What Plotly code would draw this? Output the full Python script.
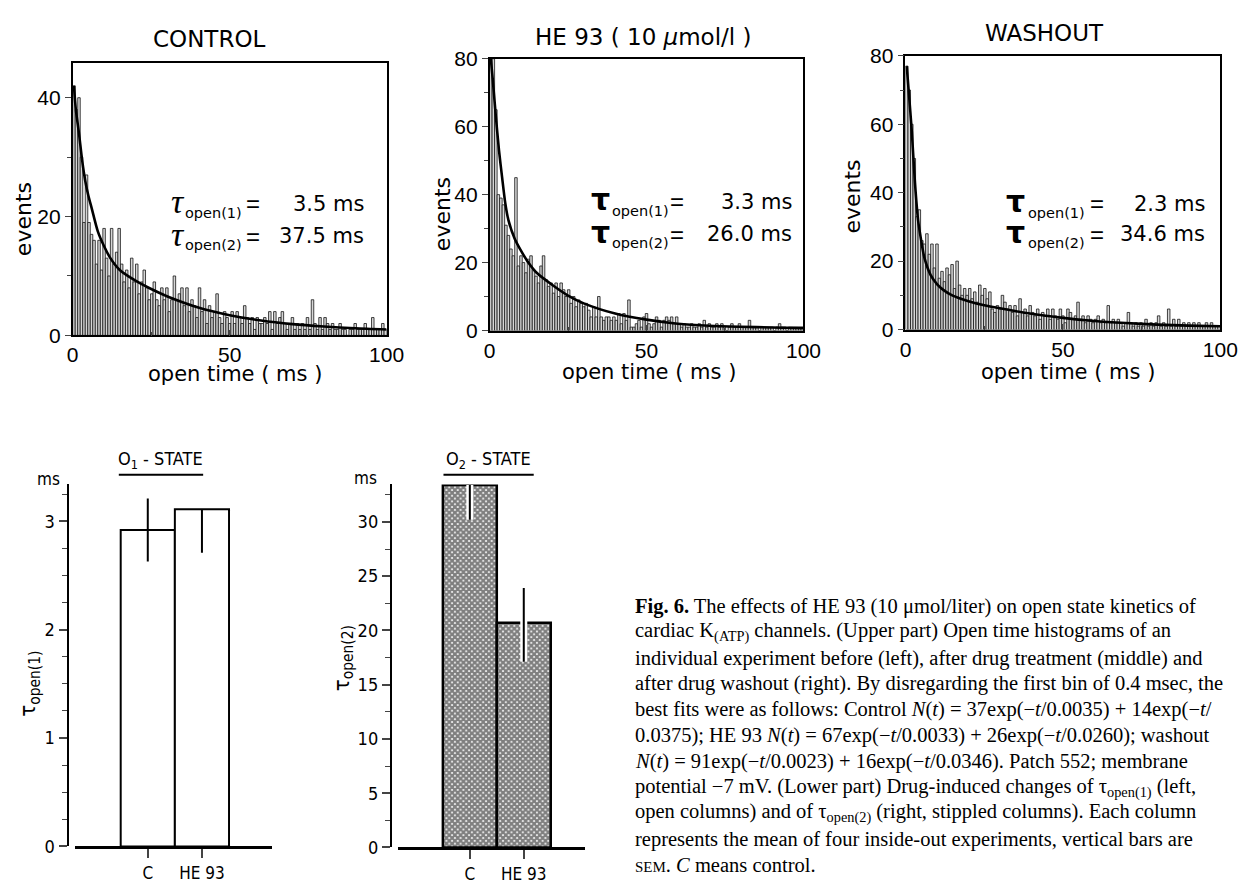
import plotly.graph_objects as go

W, H = 1256, 887


def PX(x):
    return x / W


def PY(y):
    return 1 - y / H


# ---------------- data ----------------
BIN_WIDTH = 0.8  # ms

control_counts = [
    42, 38, 40, 30, 19, 27, 19, 17, 16, 12, 16, 11, 18, 13, 10, 18, 12, 14, 18, 12,
    9, 11, 8, 13, 9, 12, 7, 9, 11, 8, 6, 7, 9, 6, 5, 8, 6, 8, 4, 6,
    10, 6, 7, 8, 5, 8, 4, 6, 5, 3, 8, 4, 6, 2, 5, 3, 4, 7, 3, 2,
    4, 3, 2, 4, 2, 4, 3, 2, 5, 3, 2, 3, 1, 3, 2, 2, 3, 2, 4, 1,
    4, 2, 3, 4, 2, 1, 2, 3, 1, 2, 1, 2, 1, 3, 1, 6, 2, 1, 3, 1,
    3, 2, 1, 2, 1, 1, 2, 1, 1, 0, 1, 1, 2, 1, 1, 1, 2, 1, 1, 3,
    1, 1, 1, 2, 1,
]
he93_counts = [
    80, 80, 65, 40, 39, 37, 31, 28, 24, 22, 45, 19, 22, 20, 17, 21, 22, 18, 16, 14,
    19, 22, 15, 13, 14, 11, 14, 10, 14, 12, 10, 12, 8, 10, 7, 9, 8, 7, 8, 6,
    4, 7, 4, 10, 4, 3, 4, 4, 3, 4, 3, 5, 2, 5, 3, 9, 1, 1, 2, 3,
    1, 4, 5, 2, 1, 2, 4, 3, 1, 3, 4, 3, 4, 2, 4, 2, 1, 2, 1, 1,
    2, 1, 1, 2, 1, 3, 1, 2, 1, 1, 2, 1, 2, 1, 0, 1, 2, 1, 1, 2,
    1, 1, 1, 3, 1, 1, 1, 0, 1, 1, 1, 1, 1, 0, 1, 2, 1, 1, 0, 1,
    1, 1, 1, 1, 1,
]
washout_counts = [
    77, 70, 60, 50, 33, 35, 26, 25, 28, 22, 25, 18, 25, 15, 17, 14, 18, 16, 19, 12,
    20, 13, 10, 12, 10, 12, 9, 11, 8, 13, 10, 12, 9, 11, 6, 5, 7, 6, 10, 8,
    6, 7, 5, 7, 4, 9, 5, 6, 4, 7, 5, 4, 6, 3, 5, 4, 6, 3, 6, 4,
    3, 6, 4, 2, 6, 5, 3, 4, 8, 3, 4, 2, 4, 3, 2, 3, 4, 2, 3, 2,
    7, 2, 3, 2, 3, 2, 1, 2, 5, 2, 1, 2, 1, 2, 1, 3, 1, 2, 1, 2,
    4, 1, 2, 1, 6, 1, 3, 1, 3, 1, 2, 1, 2, 1, 2, 1, 2, 1, 1, 2,
    1, 2, 1, 1, 1,
]

fit_time = [0.4, 1, 2, 3, 4, 5, 6, 8, 10, 12, 15, 20, 25, 30, 40, 50, 60, 70, 80, 90, 100]
control_fit = [42, 38, 34, 29.5, 26, 23.5, 21.5, 17.5, 15, 13, 11, 9.2, 7.8, 6.6, 4.7, 3.4, 2.5, 1.9, 1.5, 1.2, 1.0]
he93_fit = [80, 74, 63, 53, 45, 37.5, 32.5, 27, 23.5, 20.5, 17, 13.4, 10.3, 8, 5, 3.2, 2.0, 1.4, 1.1, 0.9, 0.7]
washout_fit = [77, 70, 58, 43, 32, 26, 21, 15.9, 13.3, 11.6, 9.9, 8.3, 7.1, 6.2, 4.6, 3.4, 2.5, 1.9, 1.45, 1.15, 0.95]

tau_open1_text = ["3.5 ms", "3.3 ms", "2.3 ms"]
tau_open2_text = ["37.5 ms", "26.0 ms", "34.6 ms"]
panel_titles = ["CONTROL", "HE 93 ( 10 <i>μ</i>mol/l )", "WASHOUT"]

bar_categories = ["C", "HE 93"]
tau1_mean = [2.92, 3.11]
tau1_err_plus = [0.29, 0.0]
tau1_err_minus = [0.29, 0.40]
tau2_mean = [33.4, 20.7]
tau2_err_plus = [0.0, 3.2]
tau2_err_minus = [3.2, 3.6]

caption_lines = [
    "<b>Fig. 6.</b> The effects of HE 93 (10 μmol/liter) on open state kinetics of",
    "cardiac K<sub>(ATP)</sub> channels. (Upper part) Open time histograms of an",
    "individual experiment before (left), after drug treatment (middle) and",
    "after drug washout (right). By disregarding the first bin of 0.4 msec, the",
    "best fits were as follows: Control <i>N</i>(<i>t</i>) = 37exp(−<i>t</i>/0.0035) + 14exp(−<i>t</i>/",
    "0.0375); HE 93 <i>N</i>(<i>t</i>) = 67exp(−<i>t</i>/0.0033) + 26exp(−<i>t</i>/0.0260); washout",
    "<i>N</i>(<i>t</i>) = 91exp(−<i>t</i>/0.0023) + 16exp(−<i>t</i>/0.0346). Patch 552; membrane",
    "potential −7 mV. (Lower part) Drug-induced changes of τ<sub>open(1)</sub> (left,",
    "open columns) and of τ<sub>open(2)</sub> (right, stippled columns). Each column",
    "represents the mean of four inside-out experiments, vertical bars are",
    "<span style='font-size:15px'>SEM</span>. <i>C</i> means control.",
]

# ---------------- layout geometry (pixels) ----------------
panels = [
    dict(counts=control_counts, fit=control_fit, x0=68, x1=388, y0=332, y1=52, ymax=45.9,
         yt=[0, 20, 40], title_xy=(207, 28), xlab_xy=(233, 372), ylab_xy=(18, 213),
         tau_x=175, sub_x=180, eq_x=261, val_x=367, rows=(197, 230), tau_style="i"),
    dict(counts=he93_counts, fit=he93_fit, x0=493, x1=813, y0=327, y1=48, ymax=80,
         yt=[0, 20, 40, 60, 80], title_xy=(650, 26), xlab_xy=(656, 370), ylab_xy=(445, 207),
         tau_x=606, sub_x=616, eq_x=693, val_x=803, rows=(195, 228), tau_style="b"),
    dict(counts=washout_counts, fit=washout_fit, x0=917, x1=1238, y0=326, y1=45, ymax=80,
         yt=[0, 20, 40, 60, 80], title_xy=(1059, 22), xlab_xy=(1083, 370), ylab_xy=(863, 190),
         tau_x=1029, sub_x=1040, eq_x=1121, val_x=1224, rows=(197, 228), tau_style="b"),
]

SANS = "DejaVu Sans"
TICKF = "Liberation Sans"
COND = "DejaVu Sans Condensed, Liberation Sans Narrow, DejaVu Sans"
SERIF = "Liberation Serif"

fig = go.Figure()
annotations = []
shapes = []
layout_axes = {}


def ann(x, y, text, size, family=SANS, xanchor="center", yanchor="middle", angle=0):
    annotations.append(dict(x=PX(x), y=PY(y), xref="paper", yref="paper", text=text,
                            showarrow=False, xanchor=xanchor, yanchor=yanchor,
                            textangle=angle, font=dict(family=family, size=size, color="black")))


for i, p in enumerate(panels):
    n = i + 1
    xa, ya = ("x", "y") if n == 1 else (f"x{n}", f"y{n}")
    centers = [BIN_WIDTH * (k + 0.5) for k in range(len(p["counts"]))]
    fig.add_trace(go.Bar(x=centers, y=p["counts"], width=BIN_WIDTH, xaxis=xa, yaxis=ya,
                         marker=dict(color="#d6d6d6", line=dict(color="#151515", width=0.8)),
                         showlegend=False, hoverinfo="skip"))
    fig.add_trace(go.Scatter(x=fit_time, y=p["fit"], mode="lines", xaxis=xa, yaxis=ya,
                             line=dict(color="black", width=2.6, shape="spline", smoothing=0.7),
                             showlegend=False, hoverinfo="skip"))
    key = "" if n == 1 else str(n)
    layout_axes[f"xaxis{key}"] = dict(
        domain=[PX(p["x0"]), PX(p["x1"])], range=[0, 100], anchor=ya,
        showline=True, mirror=True, linecolor="black", linewidth=1.6,
        ticks="inside", tickvals=[0, 50, 100], ticklen=6, tickwidth=1.3,
        minor=dict(dtick=25, ticks="inside", ticklen=4, tickwidth=1.2),
        showgrid=False, zeroline=False, tickfont=dict(family=TICKF, size=21, color="black"))
    layout_axes[f"yaxis{key}"] = dict(
        domain=[PY(p["y0"]), PY(p["y1"])], range=[0, p["ymax"]], anchor=xa,
        showline=True, mirror=True, linecolor="black", linewidth=1.6,
        ticks="outside", tickvals=p["yt"], ticklen=6, tickwidth=1.3,
        minor=dict(dtick=10, ticks="outside", ticklen=4, tickwidth=1.2),
        showgrid=False, zeroline=False, tickfont=dict(family=TICKF, size=21, color="black"))
    ann(*p["title_xy"], panel_titles[i], 23)
    ann(*p["xlab_xy"], "open time ( ms )", 21)
    ann(*p["ylab_xy"], "events", 22, angle=-90)
    for r, (row_y, sub, val) in enumerate(zip(p["rows"], ["open(1)", "open(2)"],
                                              [tau_open1_text[i], tau_open2_text[i]])):
        if p["tau_style"] == "i":
            ann(p["tau_x"], row_y - 2, "<i>τ</i>", 34, family=SERIF)
        else:
            ann(p["tau_x"], row_y - 2, "<b>τ</b>", 30, family=SANS)
        ann(p["sub_x"], row_y + 9, sub, 14.5, xanchor="left")
        ann(p["eq_x"], row_y, "=", 24, family=TICKF, xanchor="right")
        ann(p["val_x"], row_y, val, 21, xanchor="right")

# ---------------- bottom bar charts ----------------
fig.add_trace(go.Bar(x=bar_categories, y=tau1_mean, width=1, xaxis="x4", yaxis="y4",
                     marker=dict(color="white", line=dict(color="black", width=2)),
                     error_y=dict(type="data", symmetric=False, array=tau1_err_plus,
                                  arrayminus=tau1_err_minus, color="black", thickness=2, width=0),
                     showlegend=False, hoverinfo="skip"))
fig.add_trace(go.Bar(x=bar_categories, y=tau2_mean, width=1, xaxis="x5", yaxis="y5",
                     marker=dict(color="white", line=dict(color="black", width=2.5),
                                 pattern=dict(shape="x", size=4, solidity=0.8,
                                              fgcolor="black", bgcolor="white")),
                     showlegend=False, hoverinfo="skip"))
for color, thick in (("white", 7), ("black", 2)):
    fig.add_trace(go.Scatter(x=bar_categories, y=tau2_mean, mode="markers", xaxis="x5", yaxis="y5",
                             marker=dict(size=1, color="rgba(0,0,0,0)"),
                             error_y=dict(type="data", symmetric=False, array=tau2_err_plus,
                                          arrayminus=tau2_err_minus, color=color,
                                          thickness=thick, width=0),
                             showlegend=False, hoverinfo="skip"))

bar_panels = [
    dict(key="4", x0=70, x1=271, yax=62.7, ybot=856.7, ytop=485, rng=[-1.35, 2.29],
         ymax=3.34, tickvals=[0, 1, 2, 3], minor=0.25, ms=(43, 479), ylab=(24, 690),
         ylab_text="τ<sub>open(1)</sub>", state="O<sub>1</sub> - STATE", ux=(115, 201)),
    dict(key="5", x0=400, x1=590, yax=392.3, ybot=857.7, ytop=485, rng=[-1.325, 2.13],
         ymax=33.45, tickvals=[0, 5, 10, 15, 20, 25, 30], minor=2.5, ms=(367, 478), ylab=(344, 663),
         ylab_text="τ<sub>open(2)</sub>", state="O<sub>2</sub> - STATE", ux=(446, 538)),
]
for bp in bar_panels:
    k = bp["key"]
    layout_axes[f"xaxis{k}"] = dict(
        domain=[PX(bp["x0"]), PX(bp["x1"])], range=bp["rng"], type="category", anchor=f"y{k}",
        showline=True, linecolor="black", linewidth=2.5, ticks="outside", ticklen=9,
        tickwidth=1.5, showgrid=False, zeroline=False,
        tickfont=dict(family=COND, size=17, color="black"))
    layout_axes[f"yaxis{k}"] = dict(
        domain=[PY(bp["ybot"]), PY(bp["ytop"])], range=[0, bp["ymax"]], anchor="free",
        position=PX(bp["yax"]), showline=True, linecolor="black", linewidth=2,
        ticks="outside", tickvals=bp["tickvals"], ticklen=8, tickwidth=1.5,
        minor=dict(dtick=bp["minor"], ticks="outside", ticklen=5, tickwidth=1.2),
        showgrid=False, zeroline=False, tickfont=dict(family=COND, size=18, color="black"))
    ann(*bp["ms"], "ms", 17, family=COND)
    ann(*bp["ylab"], bp["ylab_text"], 22, family=COND, angle=-90)
    ann((bp["ux"][0] + bp["ux"][1]) / 2, 460, bp["state"], 18, family=COND)
    shapes.append(dict(type="line", xref="paper", yref="paper", x0=PX(bp["ux"][0]),
                       x1=PX(bp["ux"][1]), y0=PY(475), y1=PY(475),
                       line=dict(color="black", width=2)))

# ---------------- caption ----------------
for j, line in enumerate(caption_lines):
    ann(639, 610 + 26.6 * j, line, 20.5, family=SERIF, xanchor="left")

fig.update_layout(
    width=W, height=H, margin=dict(l=0, r=0, t=0, b=0),
    paper_bgcolor="white", plot_bgcolor="white", barmode="overlay",
    showlegend=False, annotations=annotations, shapes=shapes, **layout_axes)

fig.write_html(
    "out.html",
    config={"displayModeBar": False},
    post_script=(
        "document.documentElement.style.margin='0px';"
        "document.documentElement.style.overflow='hidden';"
        "document.body.style.margin='0px';document.body.style.padding='0px';"
        "document.body.style.overflow='hidden';"
        "var gd=document.getElementById('{plot_id}');"
        "gd.style.position='fixed';gd.style.left='0px';gd.style.top='0px';"
    ),
)
